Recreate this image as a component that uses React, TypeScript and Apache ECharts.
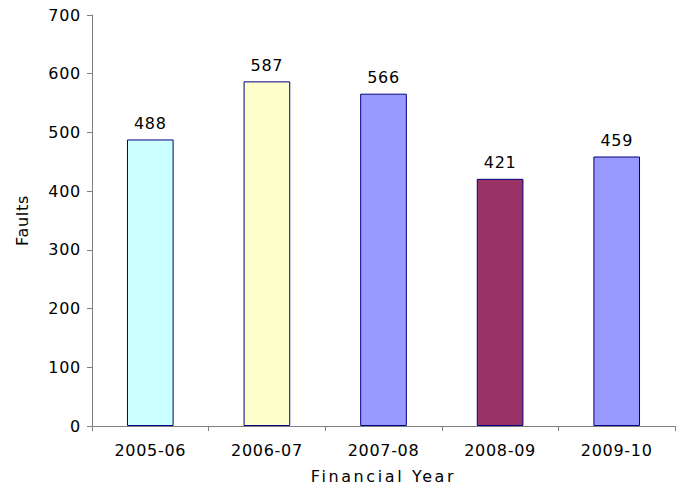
import React, { useEffect, useRef } from "react";
import * as echarts from "echarts";

const years = ["2005-06", "2006-07", "2007-08", "2008-09", "2009-10"];
const faults = [488, 587, 566, 421, 459];
const barColors = ["#CCFFFF", "#FFFFCC", "#9999FF", "#993366", "#9999FF"];

const FONT = "DejaVu Sans";
const FONT_SIZE = 16;
const X_TITLE = "Financial Year";

export default function App() {
  const ref = useRef<HTMLDivElement>(null);

  useEffect(() => {
    if (!ref.current) return;
    const el = ref.current;
    const chart = echarts.init(el, undefined, { renderer: "svg" });

    // Slightly tracked-out lettering, wider on the category axis title
    const spaceLetters = () => {
      el.querySelectorAll("text").forEach((t) => {
        const s = (t.textContent || "").trim();
        t.style.letterSpacing = s === X_TITLE ? "2.6px" : "0.7px";
      });
    };
    chart.on("finished", spaceLetters);

    chart.setOption({
      animation: false,
      backgroundColor: "#ffffff",
      grid: { left: 92, right: 7, top: 15, bottom: 63, containLabel: false },
      xAxis: {
        type: "category",
        data: years,
        name: X_TITLE,
        nameLocation: "middle",
        nameGap: 42,
        nameTextStyle: { fontFamily: FONT, fontSize: FONT_SIZE, color: "#000" },
        axisLine: { lineStyle: { color: "#808080", width: 1 } },
        axisTick: { show: true, length: 5, alignWithLabel: false, lineStyle: { color: "#808080" } },
        axisLabel: { fontFamily: FONT, fontSize: FONT_SIZE, color: "#000", margin: 16 },
      },
      yAxis: {
        type: "value",
        min: 0,
        max: 700,
        interval: 100,
        name: "Faults",
        nameLocation: "middle",
        nameRotate: 90,
        nameGap: 62,
        nameTextStyle: { fontFamily: FONT, fontSize: FONT_SIZE, color: "#000" },
        axisLine: { show: true, lineStyle: { color: "#808080", width: 1 } },
        axisTick: { show: true, length: 5, lineStyle: { color: "#808080" } },
        axisLabel: { fontFamily: FONT, fontSize: FONT_SIZE, color: "#000", margin: 11 },
        splitLine: { show: false },
      },
      series: [
        {
          type: "bar",
          barWidth: "40%",
          data: faults.map((v, i) => ({
            value: v,
            itemStyle: { color: barColors[i] },
          })),
          itemStyle: { borderColor: "#000080", borderWidth: 1 },
          label: {
            show: true,
            position: "top",
            distance: 8,
            fontFamily: FONT,
            fontSize: FONT_SIZE,
            color: "#000",
          },
        },
      ],
    });
    spaceLetters();

    return () => chart.dispose();
  }, []);

  return (
    <div
      ref={ref}
      style={{ position: "absolute", left: 0, top: 0, width: 682, height: 489 }}
    />
  );
}
